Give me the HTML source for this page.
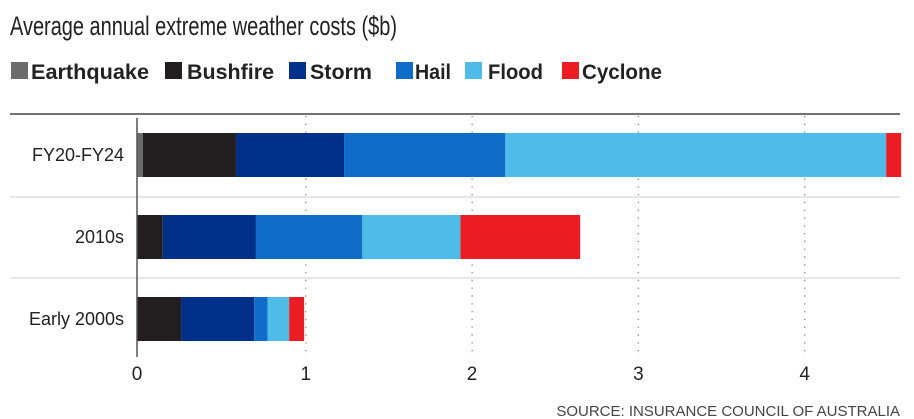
<!DOCTYPE html>
<html><head><meta charset="utf-8"><style>
body{margin:0;background:#fff;}
svg{display:block;font-family:"Liberation Sans",sans-serif;}
</style></head><body>
<svg id="chart" width="914" height="419">
<text x="10" y="35" font-size="27" fill="#222" textLength="387" lengthAdjust="spacingAndGlyphs">Average annual extreme weather costs ($b)</text>
<g id="legend"></g>
<line x1="10" y1="114" x2="900" y2="114" stroke="#444" stroke-width="1.5"/>
<line x1="10" y1="197" x2="900" y2="197" stroke="#ddd" stroke-width="1.5"/>
<line x1="10" y1="278" x2="900" y2="278" stroke="#ddd" stroke-width="1.5"/>
<g id="grid"></g>
<g id="bars"></g>
<line x1="137" y1="118" x2="137" y2="357" stroke="#555" stroke-width="1.5"/>
<g id="xticks"></g>
<g id="ylabels"></g>
<text x="900" y="416" font-size="15" fill="#444" text-anchor="end">SOURCE: INSURANCE COUNCIL OF AUSTRALIA</text>
</svg>
<script>
const categories=["FY20-FY24","2010s","Early 2000s"];
const seriesNames=["Earthquake","Bushfire","Storm","Hail","Flood","Cyclone"];
const seriesColors=["#6b6b6b","#231f20","#00308a","#0f6cc9","#4fbbe8","#ec1c24"];
const earthquake=[0.02,0,0];
const bushfire=[0.56,0.14,0.25];
const storm=[0.65,0.56,0.44];
const hail=[0.97,0.64,0.08];
const flood=[2.29,0.59,0.13];
const cyclone=[0.09,0.72,0.09];
const xTicks=[0,1,2,3,4];
const series=[earthquake,bushfire,storm,hail,flood,cyclone];
const NS="http://www.w3.org/2000/svg";
const x=v=>v<=0.005?137:139.5+166.3*v;
const rowY=[133,215,297], barH=44;
function mk(tag,attrs,parent){const e=document.createElementNS(NS,tag);for(const k in attrs)e.setAttribute(k,attrs[k]);parent.appendChild(e);return e;}
const grid=document.getElementById('grid');
const xt=document.getElementById('xticks');
xTicks.forEach(t=>{
  if(t>0){const l=mk('line',{x1:x(t),x2:x(t),y1:116,y2:358,stroke:'#888','stroke-width':1.3,'stroke-dasharray':'1.3,6.5'},grid);
  
  }
  const tx=mk('text',{x:x(t),y:380,'font-size':19,'text-anchor':'middle',fill:'#222'},xt);
  tx.textContent=t;
  
  
});
const bars=document.getElementById('bars');
const yl=document.getElementById('ylabels');
categories.forEach((c,i)=>{
  let acc=0;
  series.forEach((s,j)=>{
    const v=s[i]; if(v<=0)return;
    const r=mk('rect',{x:x(acc),y:rowY[i],width:x(acc+v)-x(acc),height:barH,fill:seriesColors[j]},bars);
    
    
    acc+=v;
  });
  const t=mk('text',{x:124,y:rowY[i]+barH/2+6,'font-size':18,'text-anchor':'end',fill:'#222'},yl);
  t.textContent=c;
  
  
});
const lg=document.getElementById('legend');
const sqX=[11,165,289,396,465,562], txX=[31,187,310,415,488,582], txW=[118,87,62,36,55,80];
seriesNames.forEach((n,j)=>{
  const g=mk('g',{},lg);
  
  
  mk('rect',{x:sqX[j],y:62,width:17,height:17,fill:seriesColors[j]},g);
  const t=mk('text',{x:txX[j],y:79,'font-size':21,'font-weight':'bold',fill:'#222',textLength:txW[j],lengthAdjust:'spacingAndGlyphs'},g);
  t.textContent=n;
});
</script>
</body></html>
